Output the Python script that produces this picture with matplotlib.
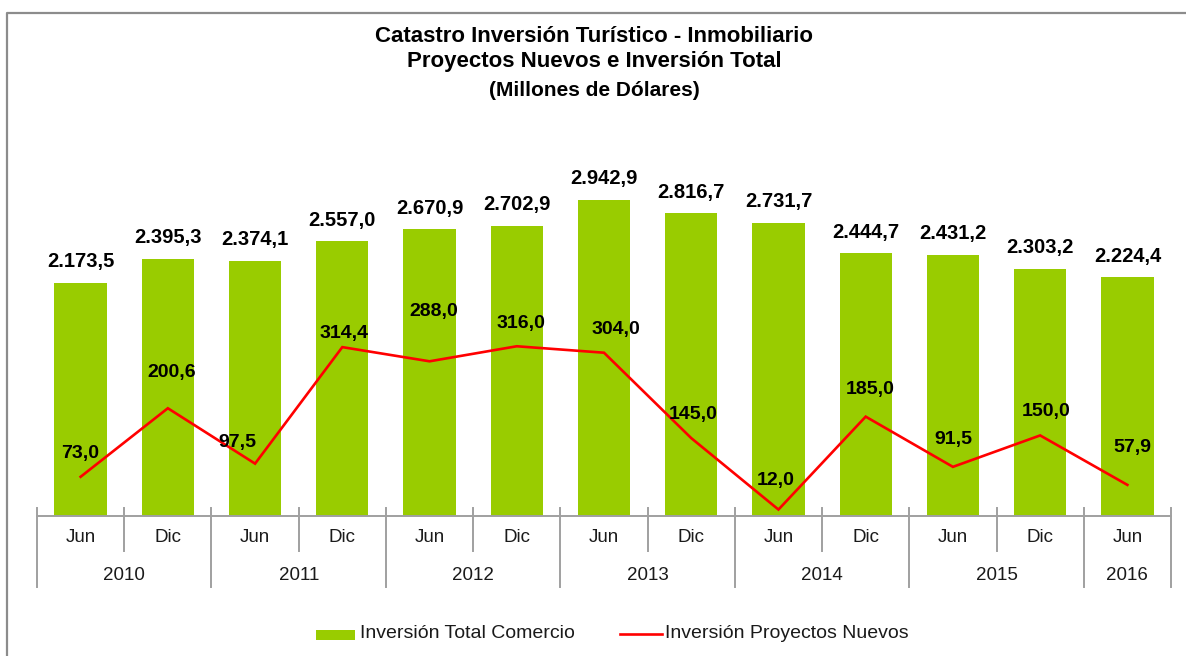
import matplotlib
matplotlib.use("Agg")
import matplotlib.pyplot as plt
from matplotlib.lines import Line2D
from matplotlib.patches import Rectangle
import matplotlib.transforms as mtransforms

# ---- data ----
periods = ["Jun", "Dic", "Jun", "Dic", "Jun", "Dic", "Jun", "Dic", "Jun", "Dic", "Jun", "Dic", "Jun"]
years = ["2010", "2011", "2012", "2013", "2014", "2015", "2016"]
periods_per_year = [2, 2, 2, 2, 2, 2, 1]
inversion_total = [2173.5, 2395.3, 2374.1, 2557.0, 2670.9, 2702.9, 2942.9,
                   2816.7, 2731.7, 2444.7, 2431.2, 2303.2, 2224.4]
proyectos_nuevos = [73.0, 200.6, 97.5, 314.4, 288.0, 316.0, 304.0,
                    145.0, 12.0, 185.0, 91.5, 150.0, 57.9]

# label offsets (pixels: dx, dy) for the line labels, as placed in the original
line_label_offsets = [(0, 23), (4, 36), (-18, 21), (2, 14), (4, 50), (4, 23), (12, 23),
                      (2, 24), (-3, 29), (4, 27), (0, 27), (6, 24), (5, 37)]

title_lines = ["Catastro Inversión Turístico - Inmobiliario",
               "Proyectos Nuevos e Inversión Total",
               "(Millones de Dólares)"]
legend_labels = ["Inversión Total Comercio", "Inversión Proyectos Nuevos"]

GREEN = "#99CC00"
RED = "#FF0000"
GRAY = "#A0A0A0"
TXT = "#1a1a1a"

W, H, DPI = 1186, 656, 100
fig = plt.figure(figsize=(W / DPI, H / DPI), dpi=DPI)
plt.rcParams["font.family"] = ["Liberation Sans", "DejaVu Sans"]

def fx(px):
    return px / W

def fy(py):
    return 1 - py / H

ax_left, ax_right, ax_top, ax_bottom = 37, 1171, 140, 516
ax = fig.add_axes([fx(ax_left), fy(ax_bottom), fx(ax_right - ax_left), (ax_bottom - ax_top) / H])
ax2 = ax.twinx()

def fmt(v):
    s = f"{v:,.1f}"
    return s.replace(",", "X").replace(".", ",").replace("X", ".")

x = list(range(len(periods)))
ax.bar(x, inversion_total, width=0.6, color=GREEN, zorder=2)
ax.set_xlim(-0.5, len(periods) - 0.5)
ax.set_ylim(0, 3500)
ax2.set_ylim(0, 700)
ax2.plot(x, proyectos_nuevos, color=RED, lw=1.9, zorder=3, solid_joinstyle="miter")

for a in (ax, ax2):
    for s in a.spines.values():
        s.set_visible(False)
    a.set_yticks([])
    a.set_xticks([])
ax.patch.set_visible(False)

# bar value labels
for xi, v in zip(x, inversion_total):
    ax.annotate(fmt(v), (xi, v), xytext=(0, 21 * 0.72), textcoords="offset points",
                ha="center", va="center", fontsize=14.5, fontweight="bold", color="black")

# line value labels
for xi, v, (dx, dy) in zip(x, proyectos_nuevos, line_label_offsets):
    ax2.annotate(fmt(v), (xi, v), xytext=(dx * 0.72, dy * 0.72), textcoords="offset points",
                 ha="center", va="center", fontsize=14, fontweight="bold", color="black",
                 zorder=5)

# x axis line and category ticks
trans = mtransforms.blended_transform_factory(ax.transData, ax.transAxes)
hpx = ax_bottom - ax_top
def ay(py):
    return (ax_bottom - py) / hpx

ax.plot([-0.5, len(periods) - 0.5], [0, 0], transform=trans, color=GRAY, lw=1.4,
        clip_on=False, zorder=4)

year_bounds = [-0.5]
for n in periods_per_year:
    year_bounds.append(year_bounds[-1] + n)
for b in range(len(periods) + 1):
    bx = b - 0.5
    bottom = 587 if bx in year_bounds else 551
    ax.plot([bx, bx], [ay(508), ay(bottom)], transform=trans, color=GRAY, lw=1.4,
            clip_on=False, zorder=4)

for xi, p in zip(x, periods):
    ax.text(xi, ay(538), p, transform=trans, ha="center", va="center", fontsize=13.5, color=TXT)
for i, yr in enumerate(years):
    cx = (year_bounds[i] + year_bounds[i + 1]) / 2
    ax.text(cx, ay(575), yr, transform=trans, ha="center", va="center", fontsize=13.5, color=TXT)

# title
fig.text(fx(594), fy(36), title_lines[0], ha="center", va="center", fontsize=16, fontweight="bold")
fig.text(fx(594), fy(62), title_lines[1], ha="center", va="center", fontsize=16, fontweight="bold")
fig.text(fx(594), fy(91), title_lines[2], ha="center", va="center", fontsize=15, fontweight="bold")

# legend
fig.patches.append(Rectangle((fx(316), fy(640)), fx(39), 10 / H, transform=fig.transFigure,
                             facecolor=GREEN, edgecolor="none"))
fig.text(fx(360), fy(634), legend_labels[0], ha="left", va="center", fontsize=14, color=TXT)
fig.lines.append(Line2D([fx(620), fx(662)], [fy(634), fy(634)], transform=fig.transFigure,
                        color=RED, lw=1.9))
fig.text(fx(665), fy(634), legend_labels[1], ha="left", va="center", fontsize=14, color=TXT)

# chart frame border (left and top)
fig.lines.append(Line2D([fx(6.5), fx(6.5), fx(W + 5)], [fy(H + 5), fy(12.5), fy(12.5)],
                        transform=fig.transFigure, color="#8C8C8C", lw=1.6))

fig.savefig("out.png", dpi=DPI)
